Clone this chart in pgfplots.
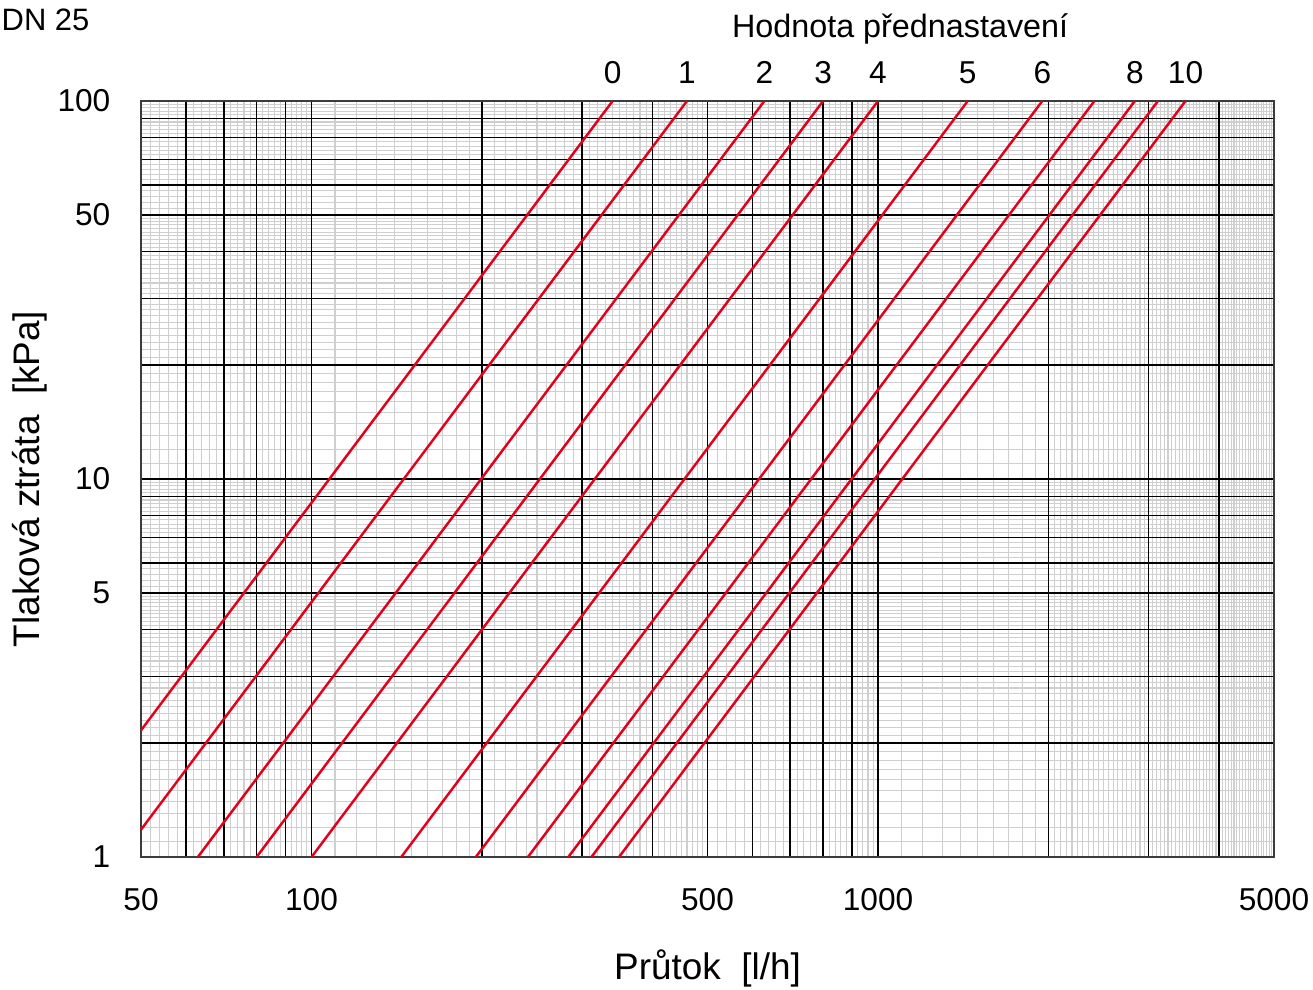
\documentclass[border=0pt]{standalone}
\usepackage{fontspec}
\setmainfont{Liberation Sans}
\usepackage{pgfplots}
\pgfplotsset{compat=1.18}
\definecolor{valvered}{RGB}{226,0,26}
\definecolor{framegray}{RGB}{60,60,60}
\tikzset{vline/.style={valvered, line width=0.7pt, mark=none}}
\begin{document}
\begin{tikzpicture}
% grey fine grid
\begin{axis}[
  xmode=log, ymode=log,
  scale only axis,
  width=11.33cm, height=7.56cm,
  xmin=50, xmax=5000, ymin=1, ymax=100,
  major tick length=0pt, minor tick length=0pt,
  axis line style={framegray, line width=0.6pt},
  xtick={52,54,...,98,110,120,...,490,520,540,...,980,1100,1200,...,1900,2050,2100,...,4950},
  ytick={1.1,1.2,...,4.9,5.2,5.4,...,9.8,11,12,...,49,52,54,...,98},
  xticklabels={}, yticklabels={},
  grid=major,
  major grid style={gray!38, line width=0.3pt},
]
\end{axis}
% black grid, curves and texts
\begin{axis}[
  xmode=log, ymode=log,
  scale only axis,
  width=11.33cm, height=7.56cm,
  xmin=50, xmax=5000, ymin=1, ymax=100,
  major tick length=0pt, minor tick length=0pt,
  axis line style={framegray, line width=0.6pt},
  name=ax,
  clip=false,
  xtick={50,60,70,80,90,100,200,300,400,500,600,700,800,900,1000,2000,3000,4000,5000},
  xticklabels={50,,,,,100,,,,500,,,,,1000,,,,5000},
  ytick={1,2,3,4,5,6,7,8,9,10,20,30,40,50,60,70,80,90,100},
  yticklabels={1,,,,5,,,,,10,,,,50,,,,,100},
  minor xtick={}, minor ytick={},
  grid=major,
  major grid style={black, line width=0.45pt},
  tick label style={font=\fontsize{9}{10}\selectfont},
  xticklabel style={anchor=center, yshift=-0.43cm},
  yticklabel style={anchor=east, inner sep=0pt, xshift=-0.3cm},
  xlabel={Průtok~~[l/h]},
  xlabel style={at={(rel axis cs:0.5,-0.147)}, anchor=center, font=\fontsize{10.5}{12}\selectfont},
  ylabel={Tlaková ztráta~~[kPa]},
  ylabel style={at={(rel axis cs:-0.098,0.5)}, anchor=center, font=\fontsize{10.5}{12}\selectfont},
]
% setting 0 ... 10 (dp = 100 kPa at Q = kv)
\addplot[vline] coordinates {(50,2.163) (340,100)};
\addplot[vline] coordinates {(50,1.181) (460,100)};
\addplot[vline] coordinates {(63,1) (630,100)};
\addplot[vline] coordinates {(80,1) (800,100)};
\addplot[vline] coordinates {(100,1) (1000,100)};
\addplot[vline] coordinates {(144,1) (1440,100)};
\addplot[vline] coordinates {(195,1) (1950,100)};
\addplot[vline] coordinates {(241,1) (2410,100)};
\addplot[vline] coordinates {(284,1) (2840,100)};
\addplot[vline] coordinates {(312,1) (3120,100)};
\addplot[vline] coordinates {(349,1) (3490,100)};

\node[anchor=base, yshift=0.17cm, font=\fontsize{9}{10}\selectfont] at (axis cs:340,100) {0};
\node[anchor=base, yshift=0.17cm, font=\fontsize{9}{10}\selectfont] at (axis cs:460,100) {1};
\node[anchor=base, yshift=0.17cm, font=\fontsize{9}{10}\selectfont] at (axis cs:630,100) {2};
\node[anchor=base, yshift=0.17cm, font=\fontsize{9}{10}\selectfont] at (axis cs:800,100) {3};
\node[anchor=base, yshift=0.17cm, font=\fontsize{9}{10}\selectfont] at (axis cs:1000,100) {4};
\node[anchor=base, yshift=0.17cm, font=\fontsize{9}{10}\selectfont] at (axis cs:1440,100) {5};
\node[anchor=base, yshift=0.17cm, font=\fontsize{9}{10}\selectfont] at (axis cs:1950,100) {6};
\node[anchor=base, yshift=0.17cm, font=\fontsize{9}{10}\selectfont] at (axis cs:2840,100) {8};
\node[anchor=base, yshift=0.17cm, font=\fontsize{9}{10}\selectfont] at (axis cs:3490,100) {10};
\node[anchor=base, yshift=0.63cm, font=\fontsize{9.2}{10}\selectfont] at (rel axis cs:0.67,1) {Hodnota přednastavení};
\node[anchor=base west, inner sep=0pt, xshift=-1.40cm, yshift=0.70cm, font=\fontsize{8.8}{10}\selectfont] at (rel axis cs:0,1) {DN 25};
\end{axis}
\pgfresetboundingbox
\path ([xshift=-1.41cm,yshift=-1.33cm]ax.south west) rectangle ([xshift=0.39cm,yshift=1.01cm]ax.north east);
\end{tikzpicture}
\end{document}
